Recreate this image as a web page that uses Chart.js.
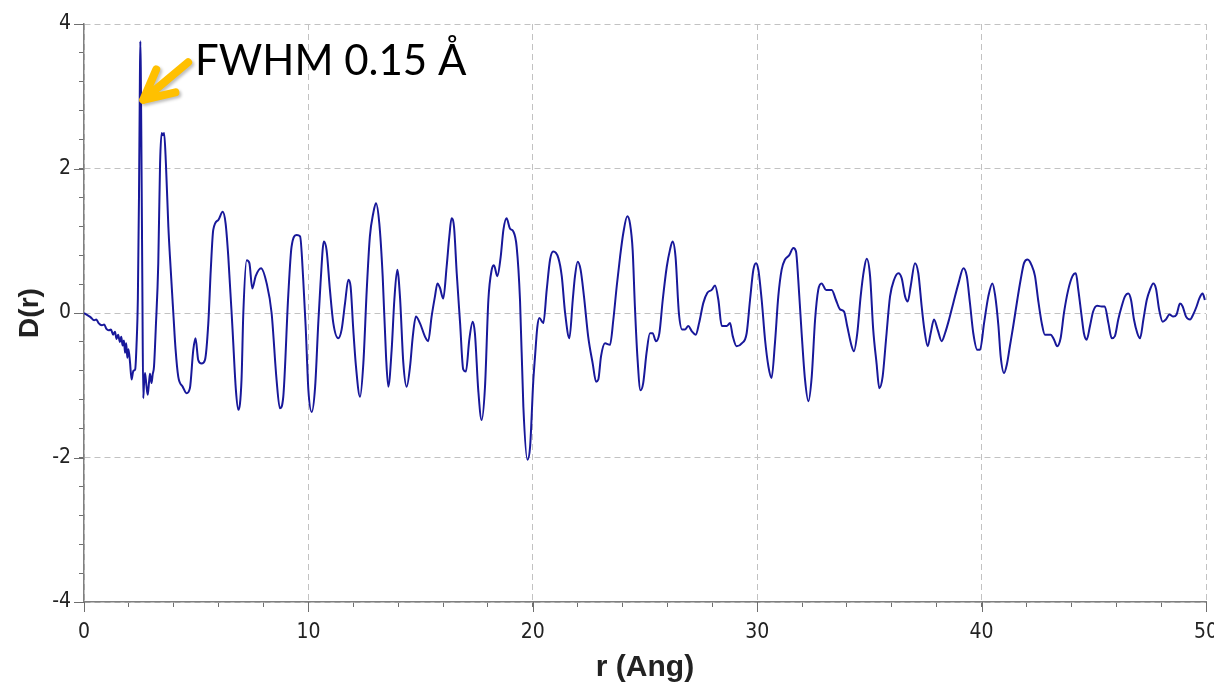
<!DOCTYPE html>
<html>
<head>
<meta charset="utf-8">
<script src="https://cdn.jsdelivr.net/npm/chart.js@4.4.1/dist/chart.umd.min.js"></script>
<style>
html,body{margin:0;padding:0;background:#ffffff;}
#wrap{width:1214px;height:687px;position:relative;}
</style>
</head>
<body>
<div id="wrap"><canvas id="c" width="1214" height="687"></canvas></div>
<script>
// r (Ang) sample positions
const rValues = [
0,0.15,0.3,0.45,0.55,0.65,0.8,0.9,1.0,1.1,1.2,1.3,1.38,1.45,1.52,1.6,1.66,1.72,1.78,1.83,1.88,1.93,1.98,2.05,2.12,2.2,2.28,2.34,2.40,2.45,2.49,2.51,2.53,2.56,2.6,2.64,2.68,2.72,2.78,2.84,2.9,2.94,3.01,3.06,3.12,3.2,3.31,3.39,3.46,3.52,3.57,3.65,3.76,3.83,3.98,4.08,4.20,4.4,4.57,4.72,4.87,4.97,5.09,5.24,5.39,5.54,5.65,5.76,5.99,6.18,6.31,6.43,6.62,6.77,6.88,7.02,7.10,7.25,7.37,7.50,7.65,7.89,8.14,8.36,8.58,8.73,8.88,9.10,9.25,9.48,9.63,9.77,9.88,
10.00,10.15,10.30,10.44,10.54,10.69,10.81,10.96,11.11,11.33,11.48,11.63,11.78,11.88,12.00,12.12,12.30,12.45,12.60,12.74,12.89,13.01,13.16,13.31,13.46,13.56,13.71,13.83,13.96,14.08,14.23,14.38,14.53,14.65,14.79,14.97,15.20,15.34,15.49,15.64,15.75,15.86,16.01,16.16,16.28,16.38,16.49,16.61,16.76,16.90,17.02,17.17,17.32,17.42,17.57,17.72,17.87,18.02,18.17,18.27,18.42,18.57,18.69,18.83,18.98,19.13,19.28,19.43,19.58,19.76,19.88,
20.02,20.10,20.20,20.29,20.47,20.62,20.77,20.91,21.14,21.29,21.44,21.63,21.78,21.88,22.00,22.13,22.28,22.47,22.67,22.82,22.92,23.04,23.22,23.44,23.59,23.74,23.89,24.03,24.21,24.33,24.45,24.55,24.66,24.80,24.92,25.07,25.22,25.34,25.49,25.64,25.79,25.97,26.11,26.23,26.36,26.51,26.66,26.78,26.93,27.08,27.26,27.41,27.60,27.78,27.97,28.12,28.27,28.42,28.64,28.79,28.91,29.08,29.31,29.53,29.68,29.83,29.95,
30.05,30.20,30.35,30.50,30.64,30.79,30.94,31.09,31.24,31.43,31.61,31.73,31.83,31.98,32.13,32.28,32.43,32.58,32.72,32.87,33.07,33.32,33.51,33.69,33.87,34.01,34.21,34.31,34.46,34.61,34.76,34.88,35.03,35.17,35.32,35.44,35.59,35.74,35.92,36.10,36.29,36.44,36.59,36.71,36.84,37.03,37.18,37.33,37.45,37.60,37.73,37.88,38.04,38.22,38.37,38.55,38.74,38.97,39.19,39.34,39.48,39.63,39.81,39.93,
40.11,40.30,40.48,40.60,40.75,40.85,41.00,41.12,41.26,41.41,41.59,41.74,41.89,42.05,42.23,42.38,42.52,42.68,42.82,43.08,43.23,43.37,43.52,43.67,43.86,44.05,44.20,44.31,44.46,44.56,44.68,44.83,44.97,45.15,45.35,45.49,45.65,45.80,45.94,46.09,46.24,46.39,46.54,46.66,46.79,46.94,47.06,47.21,47.36,47.50,47.65,47.77,47.91,48.07,48.21,48.37,48.54,48.69,48.84,48.96,49.11,49.29,49.43,49.58,49.70,49.85,49.95
];
// D(r) values
const dValues = [
0,-0.03,-0.06,-0.10,-0.09,-0.14,-0.17,-0.16,-0.22,-0.24,-0.23,-0.30,-0.26,-0.36,-0.30,-0.40,-0.33,-0.45,-0.38,-0.55,-0.42,-0.62,-0.50,-0.68,-0.92,-0.80,-0.78,-0.45,0.2,1.6,3.2,3.76,3.4,2.2,0.4,-1.18,-0.95,-0.83,-1.0,-1.13,-0.95,-0.84,-0.97,-0.85,-0.74,-0.2,0.69,2.07,2.49,2.46,2.49,2.07,1.19,0.78,0,-0.5,-0.88,-1.02,-1.11,-1.04,-0.51,-0.35,-0.65,-0.70,-0.65,-0.14,0.6,1.15,1.29,1.40,1.24,0.78,-0.23,-1.07,-1.34,-0.92,0,0.73,0.69,0.34,0.51,0.62,0.41,0,-0.92,-1.32,-1.16,0.23,0.92,1.08,1.06,0.46,-0.2,
-1.07,-1.37,-1.02,-0.14,0.41,0.99,0.87,0.32,-0.14,-0.35,-0.23,0.13,0.46,0.37,-0.23,-0.74,-1.16,-0.69,0.32,1.06,1.38,1.52,1.24,0.51,-0.60,-1.02,-0.51,0.18,0.60,0.23,-0.69,-1.02,-0.74,-0.33,-0.05,-0.14,-0.33,-0.39,-0.05,0.23,0.41,0.35,0.20,0.64,1.06,1.31,1.19,0.55,-0.14,-0.78,-0.81,-0.37,-0.12,-0.28,-1.07,-1.48,-1.02,0.18,0.60,0.66,0.51,0.78,1.15,1.31,1.17,1.13,0.92,0.18,-1.30,-2.03,-1.85,
-0.95,-0.60,-0.20,-0.07,-0.14,0.32,0.74,0.85,0.76,0.51,0,-0.35,0.18,0.51,0.71,0.60,0.23,-0.33,-0.70,-0.95,-0.92,-0.60,-0.42,-0.44,-0.09,0.37,0.78,1.10,1.34,1.24,0.87,0.09,-0.60,-1.07,-0.97,-0.55,-0.28,-0.28,-0.39,-0.28,0.18,0.64,0.87,0.99,0.78,0,-0.23,-0.23,-0.18,-0.25,-0.30,-0.14,0.14,0.28,0.32,0.38,0.18,-0.18,-0.18,-0.14,-0.32,-0.46,-0.42,-0.28,0.18,0.60,0.69,
0.60,0.18,-0.37,-0.74,-0.90,-0.42,0.23,0.60,0.74,0.80,0.90,0.85,0.46,-0.28,-0.92,-1.22,-0.88,-0.09,0.32,0.41,0.32,0.32,0.18,0.05,0.02,-0.18,-0.46,-0.53,-0.28,0.23,0.60,0.75,0.51,-0.23,-0.70,-1.04,-0.88,-0.37,0.23,0.46,0.55,0.48,0.23,0.16,0.37,0.69,0.55,0.09,-0.23,-0.46,-0.28,-0.09,-0.23,-0.39,-0.28,-0.09,0.14,0.41,0.62,0.51,0.14,-0.28,-0.51,-0.51,
-0.14,0.23,0.41,0.25,-0.18,-0.60,-0.83,-0.72,-0.46,-0.18,0.18,0.46,0.69,0.74,0.66,0.51,0.18,-0.14,-0.30,-0.30,-0.37,-0.46,-0.35,0,0.32,0.51,0.55,0.32,-0.05,-0.28,-0.37,-0.18,0.02,0.10,0.09,0.09,-0.14,-0.35,-0.32,-0.09,0.09,0.23,0.27,0.18,-0.09,-0.28,-0.35,-0.09,0.18,0.32,0.41,0.34,0.05,-0.12,-0.09,-0.02,-0.05,-0.02,0.13,0.09,-0.05,-0.09,-0.02,0.09,0.20,0.27,0.18
];
// Tick labels
const xMajorTicks = [0, 10, 20, 30, 40, 50];
const yMajorTicks = [-4, -2, 0, 2, 4];
const xTitle = 'r (Ang)';
const yTitle = 'D(r)';
const annotationText = 'FWHM 0.15 Å';

const isIn = (arr, v) => arr.some(t => Math.abs(t - v) < 1e-6);
const tickFont = {family: "'Liberation Sans Narrow', 'DejaVu Sans Condensed', 'Liberation Sans', sans-serif", size: 21};

const decorPlugin = {
  id: 'decor',
  afterDraw(chart) {
    const {ctx, scales: {x, y}} = chart;
    ctx.save();
    // longer major tick marks
    ctx.strokeStyle = '#6e6e6e';
    ctx.lineWidth = 1;
    xMajorTicks.forEach(v => {
      const px = Math.round(x.getPixelForValue(v)) + 0.5;
      ctx.beginPath(); ctx.moveTo(px, y.bottom); ctx.lineTo(px, y.bottom + 10); ctx.stroke();
    });
    yMajorTicks.forEach(v => {
      const py = Math.round(y.getPixelForValue(v)) + 0.5;
      ctx.beginPath(); ctx.moveTo(x.left, py); ctx.lineTo(x.left - 10, py); ctx.stroke();
    });
    // arrow annotation pointing at the first peak
    const tipX = x.getPixelForValue(2.64), tipY = y.getPixelForValue(2.95);
    const tailX = x.getPixelForValue(4.64), tailY = y.getPixelForValue(3.47);
    const ang = Math.atan2(tailY - tipY, tailX - tipX);
    const armLen = 33, spread = 0.47;
    ctx.shadowColor = 'rgba(0,0,0,0.25)';
    ctx.shadowBlur = 3; ctx.shadowOffsetX = 2; ctx.shadowOffsetY = 2;
    ctx.strokeStyle = '#FFC000';
    ctx.lineWidth = 8;
    ctx.lineCap = 'round'; ctx.lineJoin = 'round';
    ctx.beginPath();
    ctx.moveTo(tailX, tailY); ctx.lineTo(tipX, tipY);
    ctx.moveTo(tipX + armLen * Math.cos(ang - spread), tipY + armLen * Math.sin(ang - spread));
    ctx.lineTo(tipX, tipY);
    ctx.lineTo(tipX + armLen * Math.cos(ang + spread), tipY + armLen * Math.sin(ang + spread));
    ctx.stroke();
    ctx.shadowColor = 'rgba(0,0,0,0)';
    ctx.fillStyle = '#000000';
    ctx.font = "42px Lato, 'Open Sans', sans-serif";
    ctx.textBaseline = 'alphabetic';
    ctx.textAlign = 'left';
    ctx.fillText(annotationText, x.getPixelForValue(4.95), y.getPixelForValue(3.29));
    ctx.restore();
  }
};

new Chart(document.getElementById('c'), {
  type: 'line',
  data: {
    datasets: [{
      data: rValues.map((r, i) => ({x: r, y: dValues[i]})),
      borderColor: '#18189a',
      borderWidth: 2,
      pointRadius: 0,
      cubicInterpolationMode: 'monotone',
      fill: false
    }]
  },
  options: {
    responsive: false,
    devicePixelRatio: 1,
    animation: false,
    layout: {padding: {top: 24, right: 8, left: 0, bottom: 0}},
    plugins: {legend: {display: false}, tooltip: {enabled: false}},
    scales: {
      x: {
        type: 'linear',
        min: 0, max: 50,
        afterFit(s) { s.height = 85; s.paddingLeft = 0; s.paddingRight = 0; },
        ticks: {
          stepSize: 2,
          autoSkip: false,
          maxRotation: 0,
          padding: 13,
          color: '#222222',
          font: tickFont,
          callback: v => isIn(xMajorTicks, v) ? String(v) : ''
        },
        grid: {
          color: c => isIn(xMajorTicks, c.tick.value) ? '#c2c2c2' : 'rgba(0,0,0,0)',
          lineWidth: 1,
          tickColor: '#6e6e6e',
          tickLength: 5,
          tickWidth: 1
        },
        border: {display: true, color: '#808080', width: 1.5, dash: [6, 4]},
        title: {
          display: true, text: xTitle, color: '#222222',
          font: {family: "'Liberation Sans', Arial, sans-serif", size: 30, weight: 'bold'},
          padding: {top: 0, bottom: 1}
        }
      },
      y: {
        type: 'linear',
        min: -4, max: 4,
        afterFit(s) { s.width = 84; s.paddingTop = 0; s.paddingBottom = 0; },
        ticks: {
          stepSize: 0.4,
          autoSkip: false,
          padding: 8,
          color: '#222222',
          font: tickFont,
          callback: v => isIn(yMajorTicks, v) ? String(Math.round(v)) : ''
        },
        grid: {
          color: c => isIn(yMajorTicks, c.tick.value) ? '#c2c2c2' : 'rgba(0,0,0,0)',
          lineWidth: 1,
          tickColor: '#6e6e6e',
          tickLength: 5,
          tickWidth: 1
        },
        border: {display: true, color: '#808080', width: 1.5, dash: [6, 4]},
        title: {
          display: true, text: yTitle, color: '#222222',
          font: {family: "'Liberation Sans', Arial, sans-serif", size: 28, weight: 'bold'},
          padding: {top: 13, bottom: 0}
        }
      }
    }
  },
  plugins: [decorPlugin]
});
</script>
</body>
</html>
